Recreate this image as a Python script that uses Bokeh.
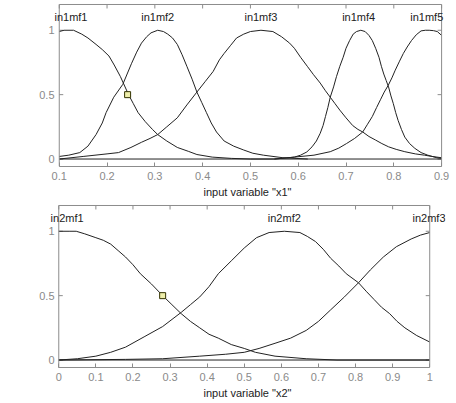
import math
from bokeh.plotting import figure
from bokeh.models import FixedTicker, Range1d, Label, BoxAnnotation
from bokeh.layouts import column
from bokeh.embed import file_html
from bokeh.resources import INLINE

FONT = "Liberation Sans"

# ---------------- data: input 1 ----------------
x1_limits = (0.1, 0.9)
x1_ticks = [0.1, 0.2, 0.3, 0.4, 0.5, 0.6, 0.7, 0.8, 0.9]
x1_tick_labels = ["0.1", "0.2", "0.3", "0.4", "0.5", "0.6", "0.7", "0.8", "0.9"]
y_limits = (-0.058, 1.2)
y_ticks = [0, 0.5, 1]
y_tick_labels = ["0", "0.5", "1"]

in1mf1_x = [0.10, 0.11, 0.13, 0.147, 0.16, 0.177, 0.19, 0.204, 0.215, 0.228, 0.245, 0.255, 0.265, 0.28, 0.295,
            0.306, 0.325, 0.347, 0.37, 0.388, 0.42, 0.46, 0.50, 0.55]
in1mf1_y = [0.99, 1.0, 1.0, 0.97, 0.94, 0.89, 0.85, 0.80, 0.73, 0.64, 0.50, 0.43, 0.36, 0.29, 0.23,
            0.19, 0.14, 0.09, 0.06, 0.035, 0.015, 0.005, 0.0, 0.0]

in1mf2_x = [0.10, 0.12, 0.143, 0.16, 0.177, 0.19, 0.198, 0.214, 0.233, 0.251, 0.262, 0.272, 0.283, 0.292, 0.306,
            0.318, 0.327, 0.337, 0.347, 0.357, 0.367, 0.378, 0.388, 0.398, 0.408, 0.418, 0.429, 0.445, 0.465,
            0.486, 0.505, 0.527, 0.568, 0.62]
in1mf2_y = [0.02, 0.03, 0.05, 0.10, 0.19, 0.28, 0.36, 0.48, 0.58, 0.74, 0.83, 0.90, 0.95, 0.98, 1.0,
            0.99, 0.97, 0.94, 0.89, 0.81, 0.72, 0.62, 0.52, 0.44, 0.36, 0.28, 0.21, 0.14, 0.10,
            0.07, 0.045, 0.03, 0.01, 0.0]

in1mf3_x = [0.10, 0.15, 0.20, 0.224, 0.25, 0.272, 0.29, 0.306, 0.325, 0.347, 0.367, 0.388, 0.405, 0.422, 0.435,
            0.445, 0.458, 0.471, 0.486, 0.50, 0.522, 0.547, 0.565, 0.582, 0.592, 0.605, 0.619, 0.632, 0.646,
            0.657, 0.667, 0.677, 0.687, 0.70, 0.714, 0.725, 0.735, 0.748, 0.762, 0.775, 0.789, 0.805, 0.823,
            0.845, 0.864, 0.88, 0.90]
in1mf3_y = [0.0, 0.02, 0.04, 0.05, 0.09, 0.13, 0.16, 0.19, 0.25, 0.32, 0.42, 0.52, 0.60, 0.68, 0.77,
            0.82, 0.88, 0.94, 0.97, 0.99, 1.0, 0.99, 0.95, 0.90, 0.86, 0.79, 0.72, 0.655, 0.59,
            0.53, 0.48, 0.43, 0.38, 0.32, 0.26, 0.23, 0.21, 0.175, 0.147, 0.12, 0.095, 0.075, 0.057,
            0.04, 0.03, 0.02, 0.01]

in1mf4_x = [0.55, 0.575, 0.592, 0.605, 0.618, 0.629, 0.638, 0.646, 0.652, 0.657, 0.662, 0.667, 0.674, 0.680,
            0.687, 0.694, 0.70, 0.7075, 0.715, 0.722, 0.731, 0.74, 0.748, 0.755, 0.762, 0.769, 0.774, 0.779,
            0.784, 0.789, 0.794, 0.799, 0.804, 0.809, 0.816, 0.823, 0.833, 0.844, 0.857, 0.871, 0.89, 0.90]
in1mf4_y = [0.0, 0.008, 0.015, 0.03, 0.055, 0.095, 0.14, 0.20, 0.26, 0.33, 0.40, 0.48, 0.56, 0.64,
            0.72, 0.79, 0.86, 0.92, 0.97, 0.99, 1.0, 0.99, 0.96, 0.92, 0.86, 0.79, 0.72, 0.66,
            0.61, 0.56, 0.49, 0.43, 0.36, 0.30, 0.23, 0.17, 0.12, 0.083, 0.05, 0.03, 0.01, 0.005]

in1mf5_x = [0.55, 0.592, 0.633, 0.667, 0.685, 0.701, 0.718, 0.735, 0.745, 0.755, 0.764, 0.772, 0.780, 0.788,
            0.796, 0.803, 0.812, 0.82, 0.828, 0.837, 0.847, 0.857, 0.866, 0.874, 0.883, 0.891, 0.90]
in1mf5_y = [0.0, 0.015, 0.03, 0.057, 0.085, 0.12, 0.16, 0.21, 0.27, 0.33, 0.40, 0.46, 0.52, 0.57,
            0.63, 0.69, 0.76, 0.82, 0.87, 0.92, 0.965, 0.995, 1.0, 1.0, 0.997, 0.99, 0.96]

in1_names = ["in1mf1", "in1mf2", "in1mf3", "in1mf4", "in1mf5"]
in1_label_x = [0.1245, 0.306, 0.522, 0.7265, 0.869]
in1_label_y = [1.105, 1.105, 1.105, 1.105, 1.105]
sel1_x = [0.243]
sel1_y = [0.5]

# ---------------- data: input 2 ----------------
x2_limits = (0.0, 1.0)
x2_ticks = [0, 0.1, 0.2, 0.3, 0.4, 0.5, 0.6, 0.7, 0.8, 0.9, 1]
x2_tick_labels = ["0", "0.1", "0.2", "0.3", "0.4", "0.5", "0.6", "0.7", "0.8", "0.9", "1"]

in2mf1_x = [0.0, 0.03, 0.047, 0.07, 0.10, 0.12, 0.14, 0.16, 0.18, 0.20, 0.22, 0.25, 0.28, 0.305, 0.33,
            0.355, 0.38, 0.405, 0.43, 0.465, 0.50, 0.53, 0.583, 0.667, 0.75, 1.0]
in2mf1_y = [1.0, 1.0, 1.0, 0.98, 0.95, 0.93, 0.90, 0.85, 0.80, 0.74, 0.67, 0.59, 0.50, 0.43, 0.36,
            0.30, 0.25, 0.20, 0.17, 0.12, 0.09, 0.06, 0.03, 0.01, 0.0, 0.0]

in2mf2_x = [0.0, 0.05, 0.10, 0.14, 0.18, 0.23, 0.28, 0.33, 0.355, 0.38, 0.405, 0.43, 0.465, 0.50, 0.533,
            0.567, 0.608, 0.65, 0.67, 0.692, 0.713, 0.733, 0.755, 0.775, 0.808, 0.83, 0.85, 0.87, 0.892,
            0.912, 0.933, 0.965, 1.0]
in2mf2_y = [0.0, 0.01, 0.03, 0.06, 0.10, 0.18, 0.26, 0.37, 0.43, 0.49, 0.57, 0.67, 0.77, 0.87, 0.95,
            0.99, 1.0, 0.99, 0.96, 0.92, 0.86, 0.79, 0.73, 0.67, 0.60, 0.53, 0.47, 0.41, 0.36,
            0.30, 0.25, 0.19, 0.14]

in2mf3_x = [0.0, 0.18, 0.28, 0.38, 0.45, 0.50, 0.54, 0.583, 0.625, 0.667, 0.70, 0.733, 0.77, 0.808, 0.84,
            0.875, 0.91, 0.95, 0.975, 1.0]
in2mf3_y = [0.0, 0.005, 0.01, 0.03, 0.045, 0.06, 0.09, 0.13, 0.17, 0.23, 0.30, 0.39, 0.49, 0.60, 0.70,
            0.80, 0.88, 0.94, 0.97, 0.99]

in2_names = ["in2mf1", "in2mf2", "in2mf3"]
in2_label_x = [0.0225, 0.608, 0.998]
in2_label_y = [1.105, 1.105, 1.105]
sel2_x = [0.28]
sel2_y = [0.5]

AXIS_LABELS = ['input variable "x1"', 'input variable "x2"']

FRAME_GRAY = "#8c8c8c"
TICK_TEXT = "#8a8a8a"
CURVE = "#222222"
Y_PX_PER_UNIT = 128.8


def make_panel(xb, x_ticks, x_labels, curves, names, lx, ly, selx, sely, xlabel,
               height, px_per_unit, pad_left, pad_right, border_left, border_right, top, bottom):
    # the plotting frame is a little wider than the drawn box, so that labels near the edges are not cut
    xr = (xb[0] - pad_left / px_per_unit, xb[1] + pad_right / px_per_unit)
    yr = (y_limits[0], y_limits[1] + 2 / Y_PX_PER_UNIT)
    p = figure(width=456, height=height, x_range=Range1d(*xr), y_range=Range1d(*yr),
               output_backend="svg", toolbar_location=None,
               min_border_left=border_left, min_border_right=border_right,
               min_border_top=top, min_border_bottom=bottom)
    p.grid.visible = False
    p.outline_line_color = None
    p.background_fill_color = "white"
    p.border_fill_color = "white"

    xa = p.xaxis[0]
    xa.ticker = FixedTicker(ticks=x_ticks)
    xa.major_label_overrides = dict(zip(x_ticks, x_labels))
    xa.bounds = xb
    xa.axis_label = xlabel
    xa.axis_line_color = FRAME_GRAY
    xa.major_tick_in = 4
    xa.major_tick_out = 0
    xa.major_tick_line_color = FRAME_GRAY
    xa.major_label_standoff = 5
    xa.axis_label_text_font = FONT
    xa.axis_label_text_font_size = "11px"
    xa.axis_label_text_font_style = "normal"
    xa.axis_label_text_color = "#222222"
    xa.axis_label_standoff = 3

    ya = p.yaxis[0]
    ya.ticker = FixedTicker(ticks=y_ticks)
    ya.major_label_overrides = dict(zip(y_ticks, y_tick_labels))
    ya.axis_line_color = None
    ya.major_tick_line_color = None
    ya.major_tick_out = 0
    ya.major_tick_in = 0
    ya.major_label_standoff = -(pad_left - 5)
    for ax in (xa, ya):
        ax.minor_tick_line_color = None
        ax.major_label_text_font = FONT
        ax.major_label_text_font_size = "11px"
        ax.major_label_text_color = TICK_TEXT

    # the box
    p.add_layout(BoxAnnotation(left=xb[0], right=xb[1], bottom=y_limits[0], top=y_limits[1],
                               fill_alpha=0, line_color=FRAME_GRAY, line_width=1, line_alpha=1))
    # inward tick marks on the top, left and right edges of the box
    p.ray(x_ticks, [y_limits[1]] * len(x_ticks), length=4, length_units="screen",
          angle=-math.pi / 2, line_color=FRAME_GRAY, line_width=1)
    p.ray([xb[0]] * len(y_ticks), y_ticks, length=4, length_units="screen",
          angle=0, line_color=FRAME_GRAY, line_width=1)
    p.ray([xb[1]] * len(y_ticks), y_ticks, length=4, length_units="screen",
          angle=math.pi, line_color=FRAME_GRAY, line_width=1)

    # zero line along the bottom of the box
    p.segment(x0=[xb[0]], y0=[0], x1=[xb[1]], y1=[0], line_color=CURVE, line_width=1)
    for cx, cy in curves:
        p.line(cx, cy, line_color=CURVE, line_width=1)

    p.scatter(selx, sely, marker="square", size=6, line_color="#333300", fill_color="#eeeeaa", line_width=1)

    for t, x, y in zip(names, lx, ly):
        p.add_layout(Label(x=x, y=y, text=t, text_align="center", text_baseline="middle",
                           text_font=FONT, text_font_size="11px", text_color="#222222"))
    return p


p1 = make_panel(x1_limits, x1_ticks, x1_tick_labels,
                [(in1mf1_x, in1mf1_y), (in1mf2_x, in1mf2_y), (in1mf3_x, in1mf3_y),
                 (in1mf4_x, in1mf4_y), (in1mf5_x, in1mf5_y)],
                in1_names, in1_label_x, in1_label_y, sel1_x, sel1_y, AXIS_LABELS[0],
                height=203, px_per_unit=490, pad_left=10, pad_right=4,
                border_left=49, border_right=1, top=2, bottom=37)
p2 = make_panel(x2_limits, x2_ticks, x2_tick_labels,
                [(in2mf1_x, in2mf1_y), (in2mf2_x, in2mf2_y), (in2mf3_x, in2mf3_y)],
                in2_names, in2_label_x, in2_label_y, sel2_x, sel2_y, AXIS_LABELS[1],
                height=200, px_per_unit=400, pad_left=10, pad_right=17,
                border_left=18, border_right=11, top=0, bottom=36)

layout = column(p1, p2, spacing=0)

open("out.html", "w").write(file_html(layout, INLINE))
